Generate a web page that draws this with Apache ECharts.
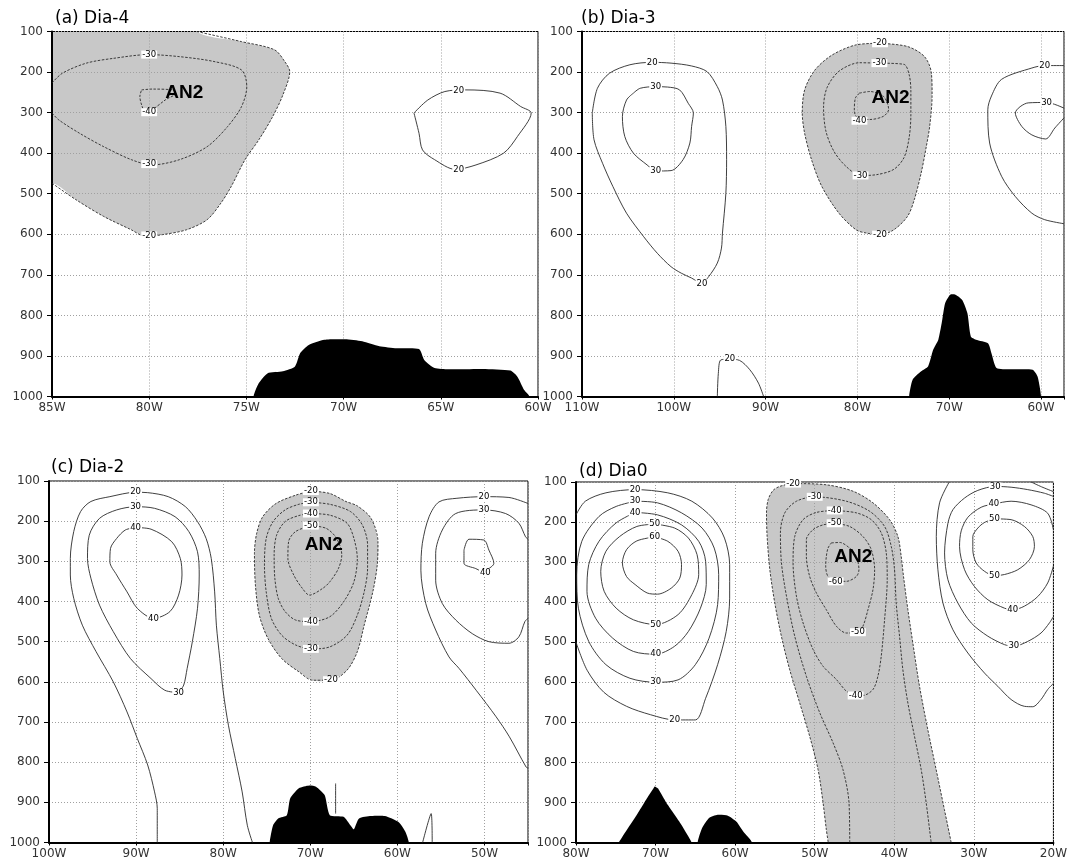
<!DOCTYPE html>
<html><head><meta charset="utf-8">
<script src="https://cdn.jsdelivr.net/npm/echarts@6/dist/echarts.min.js"></script>
<style>html,body{margin:0;padding:0;background:#fff}#c{width:1070px;height:865px}</style>
</head><body><div id="c"></div><script>
// ---------- panel meta ----------
const TITLES = ['(a) Dia-4', '(b) Dia-3', '(c) Dia-2', '(d) Dia0'];
const LON_MIN = [-85, -110, -100, -80];
const LON_MAX = [-60, -57.5, -45, -20];
const LON_STEP = [5, 10, 10, 10];
const P_MIN = 100, P_MAX = 1000, P_STEP = 100;

// ---------- panel (a) ----------
const A_M20 = [[-77.55,100],[-75.25,125],[-73.56,145],[-73.03,174],[-72.77,199],[-73.12,256],[-73.65,310],[-74.36,367],[-75.07,416],[-75.78,482],[-76.31,523],[-77.02,564],[-78.09,589],[-79.33,601],[-80.21,605],[-80.92,589],[-82.34,556],[-83.76,515],[-85,474]];
const A_M30 = [[-85,227],[-84.47,203],[-83.23,178],[-81.81,166],[-80.04,157],[-78.44,162],[-76.67,174],[-75.25,195],[-74.98,236],[-75.25,285],[-75.96,334],[-77.02,384],[-78.44,416],[-79.86,429],[-80.92,416],[-82.34,384],[-83.58,351],[-84.65,318],[-85,301]];
const A_M40 = [[-80.39,244],[-79.86,242],[-78.79,244],[-78.62,252],[-79.15,268],[-79.86,293],[-80.21,297],[-80.39,281],[-80.48,260],[-80.39,244]];
const A_P20 = [[-66.38,301],[-66.12,351],[-65.94,392],[-65.32,416],[-64.26,440],[-63.19,429],[-61.77,400],[-61.06,359],[-60.35,301],[-60.89,285],[-61.95,252],[-63.72,244],[-64.79,248],[-65.67,269],[-66.38,301]];
const A_TOPO = [[-74.63,1000],[-74.36,967],[-73.92,943],[-73.12,938],[-72.5,926],[-72.23,893],[-71.79,873],[-70.99,860],[-69.93,859],[-69.04,864],[-68.16,876],[-67.27,881],[-66.12,883],[-65.85,910],[-65.32,930],[-64.61,933],[-62.84,932],[-61.42,936],[-61.06,951],[-60.71,984],[-60.44,1000]];
const A_LABELS = [['-20',-80,603],['-30',-80,157],['-30',-80,427],['-40',-80,299],['20',-64.08,245],['20',-64.08,440]];
const A_AN2 = [['AN2',-78.2,251]];

// ---------- panel (b) ----------
const B_P20 = [[-108.88,301],[-108.69,367],[-107.76,425],[-106.64,482],[-105.15,548],[-103.28,606],[-101.79,647],[-100.3,680],[-99.18,696],[-98.06,708],[-96.94,721],[-96.19,704],[-95.26,671],[-94.81,634],[-94.7,597],[-94.33,499],[-94.25,416],[-94.33,334],[-94.7,269],[-95.26,236],[-96.38,199],[-98.06,185],[-100.3,178],[-102.35,176],[-104.78,182],[-107.01,203],[-108.32,240],[-108.88,301]];
const B_P30 = [[-104.4,252],[-105.15,269],[-105.6,310],[-105.34,359],[-104.4,400],[-102.91,429],[-101.98,444],[-100.3,443],[-98.99,416],[-98.25,375],[-98.06,334],[-97.87,301],[-98.43,277],[-99.37,244],[-100.67,237],[-101.98,236],[-103.66,240],[-104.4,252]];
const B_M20 = [[-77.54,129],[-74.55,137],[-72.69,162],[-71.94,203],[-71.87,260],[-72.13,334],[-72.5,384],[-73.06,449],[-73.81,515],[-74.55,556],[-76.04,589],[-77.54,601],[-79.03,597],[-80.15,589],[-82.01,548],[-83.88,482],[-85.0,416],[-85.75,351],[-86.01,301],[-85.75,244],[-84.63,195],[-82.76,158],[-80.15,133],[-77.54,129]];
const B_M30 = [[-77.61,178],[-74.93,181],[-74.37,206],[-74.18,247],[-74.18,305],[-74.37,362],[-74.93,411],[-76.04,440],[-77.91,453],[-79.66,455],[-81.27,432],[-82.57,395],[-83.43,346],[-83.69,288],[-83.32,239],[-82.01,198],[-79.78,177],[-77.61,178]];
const B_M40 = [[-79.78,252],[-78.66,248],[-77.16,260],[-76.6,292],[-77.16,309],[-78.66,317],[-79.78,317],[-80.34,296],[-80.22,264],[-79.78,252]];
const B_P20R = [[-57.5,184],[-59.6,184],[-61.0,190],[-64.3,218],[-65.4,259],[-65.8,293],[-65.6,375],[-64.3,457],[-62.8,507],[-61.0,548],[-59.6,564],[-57.5,574]];
const B_P30R = [[-57.5,289],[-59.4,275],[-61.4,276],[-62.8,301],[-62.1,334],[-61.0,355],[-59.5,365],[-58.5,338],[-57.5,313]];
const B_P20S = [[-95.26,1000],[-95.15,943],[-94.89,910],[-93.96,908],[-92.84,911],[-91.72,934],[-90.78,967],[-90.22,1000]];
const B_TOPO = [[-74.37,1000],[-73.99,959],[-73.06,938],[-72.31,926],[-71.75,885],[-71.19,860],[-70.82,819],[-70.45,770],[-69.89,749],[-69.33,749],[-68.58,762],[-68.02,795],[-67.65,852],[-67.09,860],[-65.78,869],[-65.41,893],[-64.85,930],[-63.36,933],[-60.93,934],[-60.37,951],[-60.0,1000]];
const B_LABELS = [['20',-102.35,176],['20',-96.94,721],['30',-101.98,236],['30',-101.98,444],['-20',-77.54,129],['-20',-77.54,601],['-30',-77.61,178],['-30',-79.66,455],['-40',-79.78,320],['20',-59.6,184],['30',-59.4,275],['20',-93.9,908]];
const B_AN2 = [['AN2',-76.4,264]];

// ---------- panel (c) ----------
const C_P20L = [[-87.57,1000],[-87.57,915],[-87.88,874],[-88.67,807],[-89.86,741],[-91.04,675],[-92.62,600],[-94.59,525],[-96.17,459],[-97.16,392],[-97.55,334],[-97.55,293],[-97.16,226],[-96.37,176],[-95.19,151],[-93.01,139],[-90.06,128],[-88.67,129],[-86.31,139],[-84.33,164],[-82.95,201],[-81.96,243],[-81.37,293],[-80.98,376],[-80.78,459],[-80.39,542],[-79.99,625],[-79.4,708],[-78.61,791],[-77.82,874],[-77.23,957],[-76.64,1000]];
const C_P30L = [[-85.12,627],[-86.7,621],[-88.28,592],[-90.65,542],[-92.62,475],[-94.2,409],[-95.19,342],[-95.58,293],[-95.38,235],[-94.2,193],[-92.23,172],[-90.06,164],[-87.88,168],[-85.52,189],[-83.94,226],[-82.95,276],[-82.75,334],[-82.95,417],[-83.54,500],[-84.14,567],[-84.53,608],[-85.12,627]];
const C_P40L = [[-90.06,216],[-88.28,220],[-85.91,251],[-84.92,293],[-84.73,334],[-85.12,384],[-86.11,425],[-88.0,442],[-89.86,417],[-91.04,376],[-92.23,334],[-93.01,301],[-92.94,268],[-92.23,243],[-91.24,222],[-90.06,216]];
const C_M20 = [[-69.93,125],[-67.76,131],[-65.91,151],[-64.6,162],[-63.02,193],[-62.23,251],[-62.31,309],[-62.82,376],[-63.81,459],[-64.6,525],[-65.78,571],[-67.63,596],[-69.73,596],[-71.31,575],[-73.28,542],[-74.86,492],[-75.85,434],[-76.3,359],[-76.41,280],[-76.15,230],[-75.46,189],[-73.93,156],[-71.64,135],[-69.93,125]];
const C_M30 = [[-69.93,153],[-67.76,158],[-65.39,176],[-64.01,210],[-63.42,259],[-63.42,318],[-63.81,376],[-64.6,434],[-65.78,484],[-67.76,513],[-69.93,518],[-71.7,508],[-73.28,484],[-74.47,442],[-75.06,376],[-75.26,309],[-75.06,243],[-74.27,201],[-72.89,172],[-71.31,158],[-69.93,153]];
const C_M40 = [[-69.93,181],[-67.76,185],[-65.78,205],[-64.99,243],[-64.6,293],[-64.99,351],[-66.18,401],[-67.76,438],[-69.93,450],[-71.7,446],[-72.89,425],[-73.68,392],[-74.07,342],[-74.15,284],[-73.87,235],[-72.89,201],[-71.31,186],[-69.93,181]];
const C_M50 = [[-69.93,211],[-68.16,218],[-66.97,243],[-66.38,284],[-66.77,318],[-67.76,351],[-68.55,367],[-70.1,384],[-70.92,367],[-71.9,334],[-72.57,293],[-72.49,251],[-71.7,226],[-69.93,211]];
const C_P20R = [[-45,156],[-47.19,141],[-50.06,139],[-53.16,143],[-55.22,152],[-56.36,189],[-57.13,255],[-57.3,322],[-56.74,405],[-55.6,471],[-54.07,538],[-52.9,567],[-50.95,621],[-48.66,687],[-47.13,737],[-45.22,812],[-45,815]];
const C_P30R = [[-45,245],[-45.28,239],[-46.05,205],[-47.57,181],[-50.06,172],[-53.3,181],[-54.84,222],[-55.6,280],[-55.6,347],[-54.84,405],[-53.3,446],[-51.4,480],[-49.49,500],[-47.19,504],[-46.05,488],[-45.36,450],[-45,442]];
const C_P40R = [[-52.35,272],[-51.78,245],[-50.06,247],[-49.49,272],[-48.92,305],[-49.7,322],[-49.9,328],[-51.0,318],[-52.35,305],[-52.35,272]];
const C_VLINE = [[-67.09,853],[-67.09,928]];
const C_SPIKE = [[-57.1,1000],[-56.12,928],[-56.0,1000]];
const C_TOPO = [[-74.66,1000],[-74.27,957],[-73.68,940],[-72.69,932],[-72.3,890],[-71.31,865],[-70.13,858],[-69.34,861],[-68.35,882],[-67.76,932],[-66.18,936],[-65.39,957],[-65.0,967],[-64.4,940],[-63.02,934],[-61.44,934],[-59.87,949],[-59.08,973],[-58.68,1000]];
const C_LABELS = [['20',-90.06,128],['30',-90.06,164],['40',-90.06,216],['40',-88.0,442],['30',-85.12,627],['-20',-69.93,125],['-30',-69.93,153],['-40',-69.93,181],['-50',-69.93,211],['-40',-69.93,450],['-30',-69.93,518],['-20',-67.63,596],['20',-50.06,139],['30',-50.06,172],['40',-49.9,328]];
const C_AN2 = [['AN2',-68.44,259]];

// ---------- panel (d) ----------
const D_P20L = [[-80,182],[-78.83,148],[-76.24,127],[-72.57,119],[-68.47,127],[-65.44,148],[-62.85,190],[-61.34,240],[-60.69,306],[-60.69,390],[-61.12,473],[-62.2,556],[-63.71,640],[-65.0,694],[-67.6,694],[-70.63,681],[-73.65,660],[-76.5,625],[-78.6,570],[-80,500]];
const D_P30L = [[-72.57,148],[-69.76,152],[-66.74,177],[-64.15,215],[-62.63,265],[-62.07,331],[-62.2,406],[-63.28,490],[-65.0,556],[-67.17,594],[-69.98,600],[-73.22,590],[-76.24,556],[-78.4,498],[-79.7,415],[-79.91,331],[-79.27,248],[-77.11,186],[-74.95,161],[-72.57,148]];
const D_P40L = [[-72.57,176],[-69.76,182],[-66.74,207],[-64.58,248],[-63.71,298],[-63.63,356],[-64.36,415],[-65.87,473],[-67.6,510],[-69.98,530],[-72.79,523],[-75.38,490],[-77.54,440],[-78.62,373],[-78.4,306],[-77.11,248],[-74.95,202],[-72.57,176]];
const D_P50L = [[-70.11,205],[-67.6,215],[-65.87,240],[-64.79,281],[-64.58,331],[-65.44,381],[-67.17,431],[-69.98,456],[-72.79,444],[-74.95,415],[-76.46,373],[-76.89,323],[-76.24,273],[-74.51,236],[-72.35,211],[-70.11,205]];
const D_P60L = [[-70.11,237],[-68.47,248],[-67.17,273],[-66.74,306],[-66.96,340],[-68.03,365],[-69.76,380],[-71.06,377],[-72.57,356],[-73.65,336],[-74.17,302],[-73.65,269],[-72.35,247],[-70.11,237]];
const D_M20 = [[-32.85,1000],[-33.7,918],[-34.74,818],[-35.79,718],[-36.83,610],[-37.67,502],[-38.29,419],[-38.84,336],[-39.13,286],[-39.55,236],[-40.59,194],[-42.68,152],[-45.19,123],[-48.54,107],[-52.72,104],[-54.39,111],[-55.23,121],[-55.85,144],[-56.06,177],[-55.98,236],[-55.64,319],[-55.02,402],[-54.18,486],[-53.14,569],[-51.88,652],[-50.63,735],[-49.58,818],[-48.95,901],[-48.54,968],[-48.3,1000]];
const D_M30 = [[-45.6,1000],[-45.69,901],[-46.45,818],[-47.7,751],[-49.37,676],[-51.05,585],[-52.51,485],[-53.55,385],[-54.18,302],[-54.31,227],[-53.76,177],[-52.3,148],[-50,137],[-46.03,148],[-43.1,173],[-41.22,211],[-40.38,261],[-39.97,319],[-39.76,402],[-39.34,485],[-38.92,569],[-38.29,652],[-37.46,735],[-36.62,818],[-35.99,901],[-35.37,1000]];
const D_M40 = [[-47.49,171],[-44.77,177],[-42.89,194],[-41.64,227],[-41.01,277],[-40.89,344],[-41.22,444],[-41.64,535],[-42.06,585],[-42.68,618],[-43.94,633],[-44.86,633],[-46.03,622],[-47.28,593],[-48.95,560],[-50.21,518],[-51.46,452],[-52.3,385],[-52.72,302],[-52.51,236],[-51.46,194],[-49.79,176],[-47.49,171]];
const D_M50 = [[-47.49,203],[-45.61,211],[-43.94,236],[-42.89,269],[-42.47,319],[-42.68,369],[-43.31,419],[-43.94,460],[-44.57,475],[-46.03,477],[-47.28,460],[-48.54,419],[-49.79,377],[-50.63,336],[-51.05,286],[-51.05,244],[-50.21,219],[-48.95,207],[-47.49,203]];
const D_M60 = [[-47.91,252],[-46.86,251],[-45.61,265],[-44.77,286],[-44.44,319],[-44.77,336],[-46.03,348],[-47.37,348],[-48.33,336],[-48.62,310],[-48.54,286],[-48.33,265],[-47.91,252]];
const D_P20R = [[-33.1,100],[-34.31,152],[-34.72,236],[-34.52,319],[-33.89,402],[-32.63,469],[-30.75,527],[-28.66,577],[-26.99,610],[-25.32,643],[-23.65,660],[-22.6,661],[-21.56,643],[-20.72,618],[-20,603]];
const D_P20TR = [[-22.8,100],[-21.5,112],[-20,124]];
const D_P30R = [[-20,136],[-21.14,128],[-23.23,119],[-25.32,113],[-27.32,111],[-29.5,121],[-31.17,140],[-32.63,169],[-33.26,203],[-33.68,277],[-33.26,344],[-32.01,402],[-30.33,452],[-28.24,485],[-26.15,506],[-24.98,510],[-23.23,498],[-21.56,477],[-20.51,452],[-20,436]];
const D_P40R = [[-20,219],[-20.72,178],[-22.81,157],[-25.32,148],[-27.49,155],[-29.08,163],[-30.75,188],[-31.59,222],[-31.8,261],[-31.17,319],[-29.92,361],[-28.24,394],[-26.15,415],[-25.11,419],[-23.65,410],[-21.97,386],[-20.72,352],[-20,310]];
const D_P50R = [[-27.41,192],[-25.32,194],[-23.65,211],[-22.6,236],[-22.39,261],[-23.02,294],[-24.48,319],[-26.15,331],[-27.41,334],[-28.66,323],[-29.71,302],[-30.13,269],[-30.13,236],[-29.5,215],[-28.66,201],[-27.41,192]];
const D_TOPO1 = [[-74.6,1000],[-72.35,931],[-71.06,889],[-70.11,860],[-69.68,865],[-68.47,906],[-66.74,956],[-65.44,1000]];
const D_TOPO2 = [[-64.71,1000],[-64.15,964],[-63.28,939],[-62.2,931],[-60.91,933],[-59.83,948],[-58.96,973],[-57.88,1000]];
const D_LABELS = [['20',-72.57,119],['30',-72.57,148],['40',-72.57,176],['50',-70.11,205],['60',-70.11,237],['50',-69.98,456],['40',-69.98,530],['30',-69.98,600],['20',-67.6,694],
  ['-20',-52.72,104],['-30',-50,137],['-40',-47.49,171],['-50',-47.49,203],['-60',-47.37,348],['-50',-44.57,475],['-40',-44.86,633],
  ['30',-27.32,111],['40',-27.49,155],['50',-27.41,192],['50',-27.41,334],['40',-25.11,419],['30',-24.98,510]];
const D_AN2 = [['AN2',-45.15,287]];

// ---------- rendering ----------
const GRIDS = [
  {left:52, top:31.5, width:486, height:365},
  {left:582, top:31.5, width:482, height:365},
  {left:49, top:481, width:479, height:361.5},
  {left:576, top:482, width:478, height:360.5}
];
const TITLE_POS = [[55,10],[581,10],[51,459],[579,463]];
const TICK_FONT = 'DejaVu Sans';
const SHADE = '#c8c8c8';

function contour(gi, pts, neg) {
  return {type:'line', xAxisIndex:gi, yAxisIndex:gi, data:pts, symbol:'none', showSymbol:false,
    smooth:0.3, silent:true, z:4, animation:false, clip:true,
    lineStyle:{color:'#2a2a2a', width:0.9, type: neg ? [2.5,1.5] : 'solid'}};
}
function fill(gi, pts, color, z, smooth) {
  return {type:'custom', xAxisIndex:gi, yAxisIndex:gi, coordinateSystem:'cartesian2d', clip:true,
    silent:true, z:z, animation:false, data:pts,
    renderItem:function(params, api){
      if (params.dataIndex !== 0) return null;
      const p = pts.map(d => api.coord(d));
      return {type:'polygon', shape:{points:p, smooth:smooth}, style:{fill:color, stroke:null}};
    }};
}
function texts(gi, items, big) {
  return {type:'scatter', xAxisIndex:gi, yAxisIndex:gi, symbolSize:0, silent:true, z: big?7:6, animation:false,
    itemStyle:{color:'#000', opacity:1},
    data: items.map(t => ({name:t[0], value:[t[1], t[2]]})),
    label:{show:true, position:'inside', formatter:'{b}', color:'#000', opacity:1,
      fontFamily: big ? 'Liberation Sans' : 'DejaVu Sans',
      fontSize: big ? 19 : 8.5, fontWeight: big ? 'bold' : 'normal',
      backgroundColor: big ? 'transparent' : '#fff', padding: big ? 0 : [0,1], lineHeight: big ? 20 : 8}};
}
function closeBelow(line){ const a=line[0], b=line[line.length-1]; return line.concat([[b[0],1060],[a[0],1060]]); }

const series = [];
// (a)
series.push(fill(0, A_M20.concat([[-90,474],[-90,40],[-77.55,40]]), SHADE, -1, 0.3));
series.push(fill(0, closeBelow(A_TOPO), '#000', 3, 0.2));
[A_M20, A_M30, A_M40].forEach(l => series.push(contour(0, l, true)));
[A_P20].forEach(l => series.push(contour(0, l, false)));
series.push(texts(0, A_LABELS, false), texts(0, A_AN2, true));
// (b)
series.push(fill(1, B_M20, SHADE, -1, 0.3));
series.push(fill(1, closeBelow(B_TOPO), '#000', 3, 0.2));
[B_M20, B_M30, B_M40].forEach(l => series.push(contour(1, l, true)));
[B_P20, B_P30, B_P20R, B_P30R, B_P20S].forEach(l => series.push(contour(1, l, false)));
series.push(texts(1, B_LABELS, false), texts(1, B_AN2, true));
// (c)
series.push(fill(2, C_M20, SHADE, -1, 0.3));
series.push(fill(2, closeBelow(C_TOPO), '#000', 3, 0.2));
[C_M20, C_M30, C_M40, C_M50].forEach(l => series.push(contour(2, l, true)));
[C_P20L, C_P30L, C_P40L, C_P20R, C_P30R, C_P40R, C_VLINE, C_SPIKE].forEach(l => series.push(contour(2, l, false)));
series.push(texts(2, C_LABELS, false), texts(2, C_AN2, true));
// (d)
series.push(fill(3, closeBelow(D_M20), SHADE, -1, 0.3));
series.push(fill(3, closeBelow(D_TOPO1), '#000', 3, 0.05));
series.push(fill(3, closeBelow(D_TOPO2), '#000', 3, 0.2));
[D_M20, D_M30, D_M40, D_M50, D_M60].forEach(l => series.push(contour(3, l, true)));
[D_P20L, D_P30L, D_P40L, D_P50L, D_P60L, D_P20R, D_P20TR, D_P30R, D_P40R, D_P50R].forEach(l => series.push(contour(3, l, false)));
series.push(texts(3, D_LABELS, false), texts(3, D_AN2, true));

const splitStyle = {show:true, lineStyle:{color:'#a0a0a0', width:1, type:[1,2]}};
const xAxes = GRIDS.map((g,i) => ({
  gridIndex:i, type:'value', min:LON_MIN[i], max:LON_MAX[i], interval:LON_STEP[i],
  axisLine:{show:true, onZero:false, lineStyle:{color:'#000', width:2}},
  axisTick:{show:true, length:3, lineStyle:{color:'#000'}},
  axisLabel:{show:true, margin:5, fontFamily:TICK_FONT, fontSize:12, color:'#333',
    showMinLabel:true, showMaxLabel:true,
    formatter:function(v){ const r=Math.round(v); return (Math.abs(v-r)<1e-6 && r % LON_STEP[i] === 0) ? Math.abs(r)+'W' : ''; }},
  splitLine:splitStyle
}));
const yAxes = GRIDS.map((g,i) => ({
  gridIndex:i, type:'value', inverse:true, min:P_MIN, max:P_MAX, interval:P_STEP,
  axisLine:{show:true, onZero:false, lineStyle:{color:'#000', width:2}},
  axisTick:{show:true, length:5, lineStyle:{color:'#000'}},
  axisLabel:{show:true, margin:9, fontFamily:TICK_FONT, fontSize:12, color:'#333', showMinLabel:true, showMaxLabel:true,
    formatter:function(v){ return String(Math.round(v)); }},
  splitLine:splitStyle
}));

const option = {
  backgroundColor:'#fff',
  animation:false,
  title: TITLES.map((t,i) => ({text:t, left:TITLE_POS[i][0], top:TITLE_POS[i][1], padding:0,
    textStyle:{fontFamily:'DejaVu Sans', fontSize:17, fontWeight:'normal', color:'#000'}})),
  grid: GRIDS.map(g => Object.assign({show:true, borderColor:'#000', borderWidth:1, backgroundColor:'transparent', containLabel:false}, g)),
  xAxis: xAxes,
  yAxis: yAxes,
  series: series
};
const chart = echarts.init(document.getElementById('c'), null, {renderer:'canvas'});
chart.setOption(option);
</script></body></html>
